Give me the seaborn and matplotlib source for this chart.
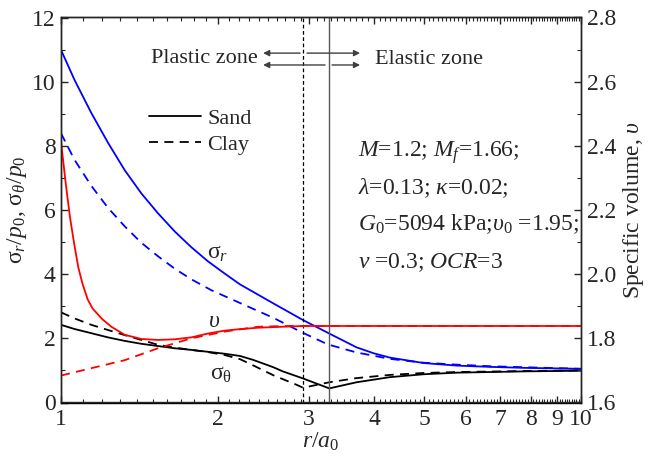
import numpy as np
import pandas as pd
import matplotlib
matplotlib.use("Agg")
import matplotlib.pyplot as plt
import seaborn as sns
from matplotlib.lines import Line2D
from matplotlib.ticker import FixedLocator, NullFormatter, FixedFormatter

# ---------------- data ----------------
r_sr_sand = [1.0, 1.062, 1.144, 1.231, 1.326, 1.427, 1.536, 1.655, 1.781, 1.917, 2.064, 2.21, 2.56,
             2.92, 3.28, 3.70, 4.0, 4.29, 4.98, 5.77, 6.69, 7.76, 10.0]
sr_sand = [10.99, 10.05, 9.02, 8.10, 7.24, 6.52, 5.90, 5.33, 4.84, 4.40, 4.02, 3.68, 3.09,
           2.57, 2.15, 1.72, 1.53, 1.40, 1.23, 1.15, 1.11, 1.08, 1.05]

r_sr_clay = [1.0, 1.062, 1.144, 1.231, 1.326, 1.427, 1.536, 1.655, 1.781, 1.946, 2.21, 2.56,
             2.92, 3.26, 3.70, 4.29, 4.98, 5.77, 6.69, 7.76, 10.0]
sr_clay = [8.39, 7.56, 6.75, 6.07, 5.49, 4.98, 4.56, 4.17, 3.84, 3.50, 3.10, 2.64,
           2.17, 1.81, 1.56, 1.36, 1.24, 1.18, 1.13, 1.10, 1.05]

r_st_sand = [1.0, 1.062, 1.144, 1.231, 1.326, 1.427, 1.536, 1.655, 1.781, 1.917, 2.064, 2.21, 2.34,
             2.56, 2.67, 2.92, 3.28, 3.70, 4.29, 4.98, 5.77, 7.76, 10.0]
st_sand = [2.42, 2.29, 2.16, 2.03, 1.92, 1.83, 1.76, 1.69, 1.64, 1.58, 1.52, 1.45, 1.33,
           1.10, 0.97, 0.75, 0.44, 0.63, 0.79, 0.88, 0.93, 0.97, 0.99]

r_st_clay = [1.0, 1.062, 1.144, 1.231, 1.326, 1.427, 1.536, 1.655, 1.781, 1.917, 2.064, 2.21, 2.36,
             2.56, 2.84, 2.92, 3.28, 3.70, 4.29, 4.98, 5.77, 7.76, 10.0]
st_clay = [2.81, 2.62, 2.42, 2.26, 2.10, 1.95, 1.80, 1.71, 1.64, 1.57, 1.48, 1.35, 1.13,
           0.85, 0.55, 0.46, 0.63, 0.76, 0.86, 0.92, 0.95, 0.98, 1.00]

# specific volume (right axis)
r_v_sand = [1.0, 1.02, 1.04, 1.06, 1.08, 1.10, 1.125, 1.15, 1.2, 1.25, 1.326, 1.427, 1.536, 1.655,
            1.781, 1.917, 2.064, 2.22, 2.39, 2.56, 2.92, 3.3, 5.0, 10.0]
v_sand = [2.413, 2.290, 2.180, 2.095, 2.020, 1.970, 1.922, 1.893, 1.860, 1.836, 1.811, 1.798, 1.795, 1.797,
          1.803, 1.815, 1.824, 1.829, 1.833, 1.835, 1.8385, 1.8385, 1.8385, 1.8385]

r_v_clay = [1.0, 1.144, 1.326, 1.536, 1.781, 2.064, 2.39, 2.7, 3.0, 5.0, 10.0]
v_clay = [1.684, 1.707, 1.732, 1.769, 1.800, 1.821, 1.836, 1.8385, 1.8385, 1.8385, 1.8385]

r_boundary_clay = 2.92
r_boundary_sand = 3.28

x_major = [1, 2, 3, 4, 5, 6, 7, 8, 9, 10]
x_major_labels = ["1", "2", "3", "4", "5", "6", "7", "8", "9", "10"]

# ---------------- style ----------------
sns.set_style("ticks")
plt.rcParams["font.family"] = ["Liberation Serif", "DejaVu Serif"]
plt.rcParams["mathtext.fontset"] = "custom"
plt.rcParams["mathtext.rm"] = "Liberation Serif"
plt.rcParams["mathtext.it"] = "Liberation Serif:italic"
plt.rcParams["mathtext.bf"] = "Liberation Serif:bold"
plt.rcParams["axes.linewidth"] = 1.0

FS = 16
FT = 17

fig = plt.figure(figsize=(6.57, 4.54), dpi=100)
ax = fig.add_axes([61 / 657, 1 - 402.5 / 454, 520 / 657, 385 / 454])
ax2 = ax.twinx()

def df(r, v):
    return pd.DataFrame({"r": r, "v": v})

lw = 1.3
DASH = (5, 3.5)
sns.lineplot(data=df(r_sr_sand, sr_sand), x="r", y="v", ax=ax, color="#0000ff", lw=lw, estimator=None, sort=False)
sns.lineplot(data=df(r_sr_clay, sr_clay), x="r", y="v", ax=ax, color="#0000ff", lw=lw, estimator=None, sort=False)
ax.lines[-1].set_dashes(DASH)
sns.lineplot(data=df(r_st_sand, st_sand), x="r", y="v", ax=ax, color="black", lw=lw, estimator=None, sort=False)
sns.lineplot(data=df(r_st_clay, st_clay), x="r", y="v", ax=ax, color="black", lw=lw, estimator=None, sort=False)
ax.lines[-1].set_dashes(DASH)

sns.lineplot(data=df(r_v_sand, v_sand), x="r", y="v", ax=ax2, color="#ff0000", lw=lw, estimator=None, sort=False)
sns.lineplot(data=df(r_v_clay, v_clay), x="r", y="v", ax=ax2, color="#ff0000", lw=lw, estimator=None, sort=False)
ax2.lines[-1].set_dashes(DASH)

ax.axvline(r_boundary_clay, color="black", lw=0.9, ls=(0, (3, 2)))
ax.axvline(r_boundary_sand, color="0.35", lw=1.0)

ax.set_xscale("log")
ax.set_xlim(1, 10)
ax.set_ylim(0, 12)
ax2.set_ylim(1.6, 2.8)

ax.xaxis.set_major_locator(FixedLocator(x_major))
ax.xaxis.set_major_formatter(FixedFormatter(x_major_labels))
minors = [round(v, 1) for v in np.arange(1.1, 10.0, 0.1) if abs(v - round(v)) > 1e-6]
ax.xaxis.set_minor_locator(FixedLocator(minors))
ax.xaxis.set_minor_formatter(NullFormatter())
ax.set_yticks(np.arange(0, 13, 2))
ax.set_yticks(np.arange(1, 12, 2), minor=True)
ax2.set_yticks(np.arange(1.6, 2.81, 0.2))
ax2.set_yticklabels(["1.6", "1.8", "2.0", "2.2", "2.4", "2.6", "2.8"])
ax2.set_yticks(np.arange(1.7, 2.8, 0.2), minor=True)

ax.tick_params(axis="x", which="both", direction="in", top=True, bottom=True, labelsize=FT, pad=5)
ax.tick_params(axis="x", which="major", length=5, width=1)
ax.tick_params(axis="x", which="minor", length=3, width=0.8)
ax.tick_params(axis="y", which="both", direction="in", left=True, right=False, labelsize=FT, pad=4)
ax.tick_params(axis="y", which="major", length=5, width=1)
ax.tick_params(axis="y", which="minor", length=3, width=0.8)
ax2.tick_params(axis="y", which="both", direction="in", right=True, labelsize=FT, pad=4)
ax2.tick_params(axis="y", which="major", length=5, width=1)
ax2.tick_params(axis="y", which="minor", length=3, width=0.8)

ax.set_xlabel("$r/a_0$", fontsize=FT, labelpad=0)
ax.set_ylabel("σ$_r$/$p_0$, σ$_\\theta$/$p_0$", fontsize=FT, labelpad=2)
ax2.set_ylabel("Specific volume, $\\upsilon$", fontsize=FT, labelpad=4)

# zone arrows
acol = "0.25"
akw = dict(arrowstyle="-|>", color=acol, lw=1.0, mutation_scale=9, shrinkA=0, shrinkB=0)
ax.annotate("", xy=(2.447, 10.89), xytext=(2.882, 10.89), arrowprops=akw)
ax.annotate("", xy=(3.76, 10.89), xytext=(2.972, 10.89), arrowprops=akw)
ax.annotate("", xy=(2.447, 10.52), xytext=(3.22, 10.52), arrowprops=akw)
ax.annotate("", xy=(3.76, 10.52), xytext=(3.32, 10.52), arrowprops=akw)
ax.text(2.39, 10.72, "Plastic zone", fontsize=FS, ha="right", va="center")
ax.text(4.01, 10.68, "Elastic zone", fontsize=FS, ha="left", va="center")

# parameters
px = 3.73
ax.text(px, 7.80, "$M$=1.2; $M_f$=1.66;", fontsize=FT, va="center")
ax.text(px, 6.68, "$\\lambda$=0.13; $\\kappa$=0.02;", fontsize=FT, va="center")
ax.text(px, 5.55, "$G_0$=5094 kPa;$\\upsilon_0$ =1.95;", fontsize=FT, va="center")
ax.text(px, 4.36, "$\\nu$ =0.3; $OCR$=3", fontsize=FT, va="center")

# curve labels
ax.text(2.0, 4.65, "σ$_r$", fontsize=FT, ha="center", va="center")
ax.text(1.97, 2.51, "$\\upsilon$", fontsize=FT, ha="center", va="center")
ax.text(2.03, 0.86, "σ$_\\mathrm{θ}$", fontsize=FT, ha="center", va="center")

handles = [Line2D([], [], color="black", lw=lw), Line2D([], [], color="black", lw=lw, dashes=DASH)]
ax.legend(handles, ["Sand", "Clay"], loc="upper left", bbox_to_anchor=(0.17, 0.765),
          frameon=False, fontsize=FS, handlelength=2.3, handletextpad=0.3,
          labelspacing=0.25, borderpad=0, borderaxespad=0)

for s in ax.spines.values():
    s.set_color("black")

fig.savefig("out.png", dpi=100)
